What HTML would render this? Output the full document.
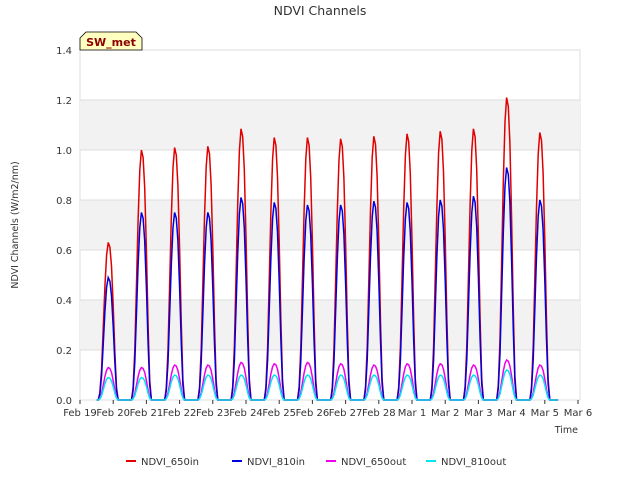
<!DOCTYPE html>
<html><head><meta charset="utf-8"><style>
body{margin:0;background:#fff;font-family:"Liberation Sans",sans-serif;}
svg text{font-family:"DejaVu Sans","Liberation Sans",sans-serif;}
</style></head><body>
<svg id="c" width="640" height="480" xmlns="http://www.w3.org/2000/svg">
<text x="320" y="15" text-anchor="middle" font-size="12.5" fill="#333">NDVI Channels</text>
<g id="plot"></g>
<text x="18" y="225" text-anchor="middle" font-size="9.5" fill="#333" transform="rotate(-90 18 225)">NDVI Channels (W/m2/nm)</text>
<text x="578" y="433" text-anchor="end" font-size="9.5" fill="#333">Time</text>
<g>
<path d="M80,50 L80,38 L86,32 L136,32 L142,38 L142,50 Z" fill="#ffffc0" stroke="#000" stroke-width="0.8"/>
<text x="111" y="46" text-anchor="middle" font-size="11" font-weight="bold" fill="#8b0000">SW_met</text>
</g>
<g id="legend"></g>
</svg>
<script>
const dayLabels=["Feb 19","Feb 20","Feb 21","Feb 22","Feb 23","Feb 24","Feb 25","Feb 26","Feb 27","Feb 28","Mar 1","Mar 2","Mar 3","Mar 4","Mar 5","Mar 6"];
const yTicks=[0,0.2,0.4,0.6,0.8,1.0,1.2,1.4];
const peak650in=[0.63,1.0,1.01,1.015,1.085,1.05,1.05,1.045,1.055,1.065,1.075,1.085,1.21,1.07];
const peak810in=[0.49,0.75,0.75,0.75,0.81,0.79,0.78,0.78,0.795,0.79,0.80,0.815,0.93,0.80];
const peak650out=[0.13,0.13,0.14,0.14,0.15,0.145,0.15,0.145,0.14,0.145,0.145,0.14,0.16,0.14];
const peak810out=[0.09,0.09,0.1,0.1,0.1,0.1,0.1,0.1,0.1,0.1,0.1,0.1,0.12,0.1];
const profile=[0,0.05,0.2,0.45,0.72,0.92,1,0.97,0.85,0.6,0.3,0.08,0];
const profileStart=-0.45, profileStep=0.05;
const X0=80,X1=578,Y0=400,Y1=50;
const xs=d=>X0+(d/15)*(X1-X0);
const ys=v=>Y0-(v/1.4)*(Y0-Y1);
const NS="http://www.w3.org/2000/svg";
const plot=document.getElementById('plot');
function mk(t,a,p){const e=document.createElementNS(NS,t);for(const k in a)e.setAttribute(k,a[k]);(p||plot).appendChild(e);return e;}
mk('rect',{x:X0,y:Y1,width:X1-X0+2,height:Y0-Y1,fill:'#fff',stroke:'#ddd'});
for(let i=0;i<7;i++){ if(i%2==1){const r=mk('rect',{x:X0,y:ys(yTicks[i+1]),width:X1-X0+2,height:ys(yTicks[i])-ys(yTicks[i+1]),fill:'#f2f2f2'});

}}
yTicks.forEach(v=>{const l=mk('line',{x1:X0,x2:X1+2,y1:ys(v),y2:ys(v),stroke:'#ddd'});


const t=mk('text',{x:X0-8,y:ys(v)+4,'text-anchor':'end','font-size':10,fill:'#333'});t.textContent=v.toFixed(1);

});
dayLabels.forEach((s,i)=>{const l=mk('line',{x1:xs(i),x2:xs(i),y1:Y0,y2:Y0+4,stroke:'#333'});


const t=mk('text',{x:xs(i),y:Y0+16,'text-anchor':'middle','font-size':10,fill:'#333'});t.textContent=s;

});
function series(peaks,color,name){let d='M'+xs(0.5)+','+ys(0);
peaks.forEach((p,i)=>{const day=i+1;profile.forEach((f,j)=>{const t=day+profileStart+j*profileStep;d+=' L'+xs(t).toFixed(1)+','+ys(p*f).toFixed(1);});});
d+=' L'+xs(14.4)+','+ys(0);
const e=mk('path',{d:d,fill:'none',stroke:color,'stroke-width':1.5});

}
series(peak650in,'#e00000','series-ndvi-650in');
series(peak810in,'#0000dd','series-ndvi-810in');
series(peak650out,'#ee00ee','series-ndvi-650out');
series(peak810out,'#00e5ee','series-ndvi-810out');
const leg=document.getElementById('legend');
[["NDVI_650in","#e00000",126],["NDVI_810in","#0000dd",232],["NDVI_650out","#ee00ee",326],["NDVI_810out","#00e5ee",426]].forEach(([n,c,x])=>{
const g=mk('g',{},leg);
mk('line',{x1:x,x2:x+10,y1:461,y2:461,stroke:c,'stroke-width':2},g);
const t=mk('text',{x:x+15,y:465,'font-size':10,fill:'#333'},g);t.textContent=n;});
</script>
</body></html>
